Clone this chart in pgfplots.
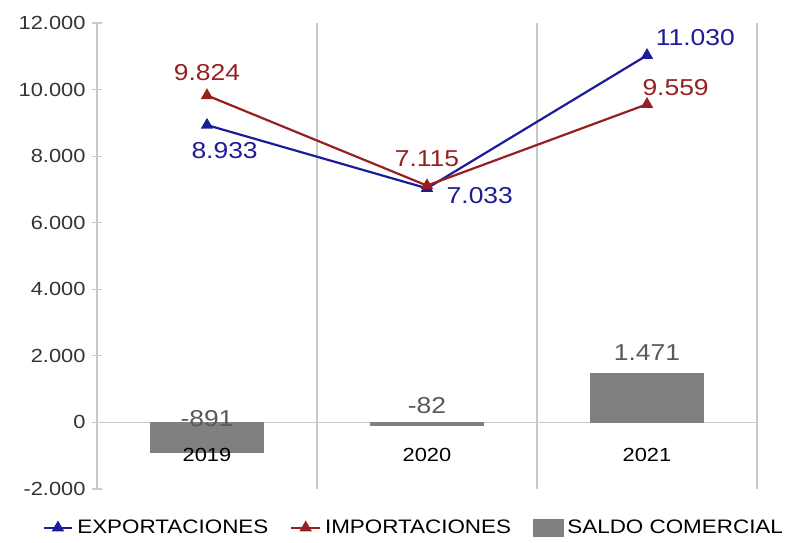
\documentclass[border=0pt]{standalone}
\usepackage{pgfplots}
\pgfplotsset{compat=1.18}
\usetikzlibrary{calc}
\usepackage{fontspec}
\setmainfont{Liberation Sans}[FakeStretch=1.15]
\definecolor{expblue}{HTML}{1C1C96}
\definecolor{impred}{HTML}{962020}
\definecolor{bargray}{HTML}{808080}
\definecolor{lblgray}{HTML}{595959}
\definecolor{gridgray}{HTML}{C8C8C8}
\begin{document}
\begin{tikzpicture}
\begin{axis}[
  name=ax,
  scale only axis,
  width=660pt, height=466pt,
  xmin=-0.5, xmax=2.5,
  ymin=-2000, ymax=12000,
  scaled y ticks=false,
  axis x line=none,
  axis y line*=left,
  y axis line style={gridgray, line width=1.2pt, -},
  ytick={-2000,0,2000,4000,6000,8000,10000,12000},
  yticklabels={-2.000,0,2.000,4.000,6.000,8.000,10.000,12.000},
  ytick style={gridgray, line width=1.2pt},
  major tick length=10pt,
  tick align=center,
  yticklabel style={font=\fontsize{19}{22}\selectfont, text=black!80, xshift=-3pt},
  clip=false,
  legend style={at={(axis description cs:0.48,-0.083)}, anchor=center, draw=none,
    legend columns=3, font=\fontsize{19.5}{22}\selectfont,
    /tikz/every even column/.append style={column sep=20pt},
    /tikz/every odd column/.append style={column sep=2pt}},
  legend cell align=left,
  legend image code/.code={
    \draw[mark repeat=2,mark phase=2] plot coordinates {(0cm,0cm) (0.5cm,0cm) (1cm,0cm)};},
]
\draw[gridgray, line width=1.2pt] (axis cs:0.5,-2000) -- (axis cs:0.5,12000);
\draw[gridgray, line width=1.2pt] (axis cs:1.5,-2000) -- (axis cs:1.5,12000);
\draw[gridgray, line width=1.2pt] (axis cs:2.5,-2000) -- (axis cs:2.5,12000);
\draw[gridgray, line width=1.2pt] (axis cs:-0.5,0) -- (axis cs:2.5,0);
\addplot[expblue, line width=2.2pt, mark=triangle*, mark size=5pt, mark options={solid}]
  coordinates {(0,8933) (1,7033) (2,11030)};
\addlegendentry{EXPORTACIONES}
\addplot[impred, line width=2.2pt, mark=triangle*, mark size=5pt, mark options={solid}]
  coordinates {(0,9824) (1,7115) (2,9559)};
\addlegendentry{IMPORTACIONES}
\addplot[ybar, bar width=113pt, fill=bargray, draw=bargray,
  legend image code/.code={\fill[bargray] (0cm,-0.3cm) rectangle (1.05cm,0.3cm);}]
  coordinates {(0,-891) (1,-82) (2,1471)};
\addlegendentry{SALDO COMERCIAL}
\node[font=\fontsize{19}{22}\selectfont] at (axis cs:0,-990) {2019};
\node[font=\fontsize{19}{22}\selectfont] at (axis cs:1,-990) {2020};
\node[font=\fontsize{19}{22}\selectfont] at (axis cs:2,-990) {2021};
\node[font=\fontsize{23}{26}\selectfont, text=impred] at (axis cs:0,10510) {9.824};
\node[font=\fontsize{23}{26}\selectfont, text=expblue] at (axis cs:0.08,8168) {8.933};
\node[font=\fontsize{23}{26}\selectfont, text=impred] at (axis cs:1,7928) {7.115};
\node[font=\fontsize{23}{26}\selectfont, text=expblue] at (axis cs:1.24,6817) {7.033};
\node[font=\fontsize{23}{26}\selectfont, text=expblue] at (axis cs:2.22,11561) {11.030};
\node[font=\fontsize{23}{26}\selectfont, text=impred] at (axis cs:2.13,10060) {9.559};
\node[font=\fontsize{23}{26}\selectfont, text=lblgray] at (axis cs:0,120) {-891};
\node[font=\fontsize{23}{26}\selectfont, text=lblgray] at (axis cs:1,510) {-82};
\node[font=\fontsize{23}{26}\selectfont, text=lblgray] at (axis cs:2,2100) {1.471};
\end{axis}
\pgfresetboundingbox
\path[use as bounding box] ($(ax.south west)+(-97pt,-53pt)$) rectangle ++(792pt,542pt);
\end{tikzpicture}
\end{document}
